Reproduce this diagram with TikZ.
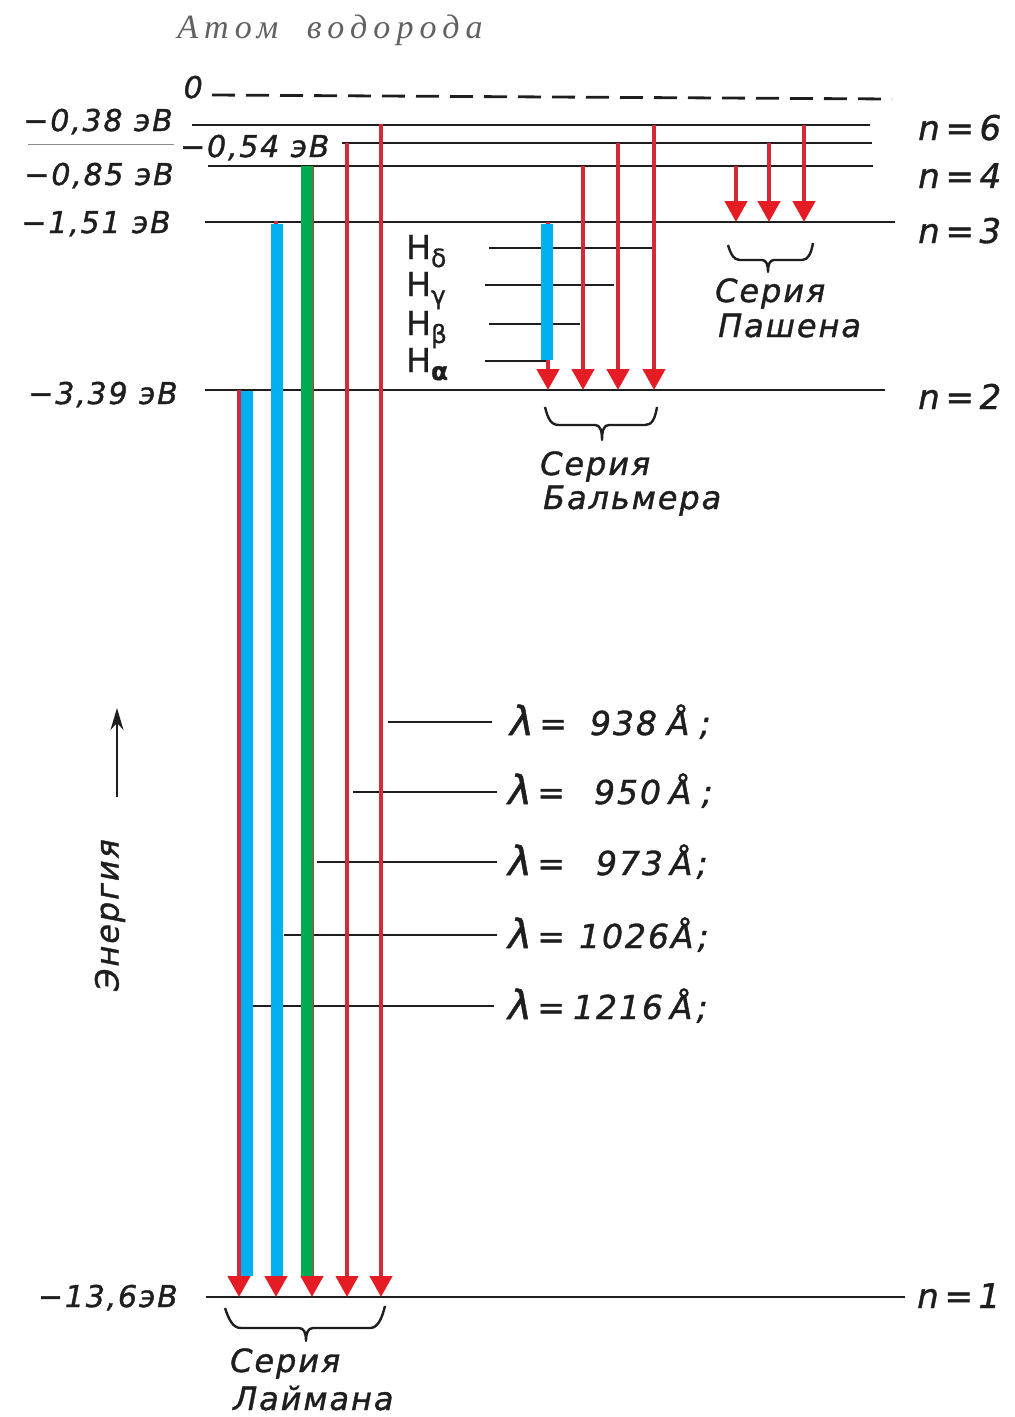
\documentclass[tikz,border=0pt]{standalone}
\usepackage{fontspec}
\setmainfont{DejaVu Sans}
\newfontfamily\labf[LetterSpace=6,FakeBold=1.2]{DejaVu Sans}
\newfontfamily\hfont[FakeBold=0.8]{DejaVu Sans}
\newfontfamily\titf[LetterSpace=18]{Liberation Serif}
\usetikzlibrary{arrows.meta}
\definecolor{lnred}{RGB}{212,42,56}
\definecolor{hdred}{RGB}{230,28,36}
\definecolor{bblue}{RGB}{0,176,240}
\definecolor{bgreen}{RGB}{0,170,80}
\definecolor{ink}{RGB}{30,30,30}
\newcommand\bglam{{\fontsize{40}{40}\selectfont λ}}
\begin{document}
\begin{tikzpicture}[x=1pt,y=-1pt,
  lvl/.style={line width=1.8pt, draw=ink},
  tickln/.style={line width=1.6pt, draw=ink},
  tr/.style={line width=4.5pt, draw=lnred, -{Triangle[width=22pt,length=21pt,color=hdred]}},
  cbar/.style={line width=12pt},
  lbl/.style={font=\labf\itshape\fontsize{30}{34}\selectfont, inner sep=0pt, text=ink},
  nlbl/.style={font=\labf\itshape\fontsize{34}{38}\selectfont, inner sep=0pt, text=ink},
  lam/.style={font=\labf\itshape\fontsize{33}{36}\selectfont, inner sep=0pt, text=ink},
  ser/.style={font=\labf\itshape\fontsize{32}{36}\selectfont, inner sep=0pt, text=ink},
  hl/.style={font=\hfont\fontsize{33}{36}\selectfont, inner sep=0pt, text=ink},
  brc/.style={line width=2.4pt, draw=ink, line join=round},
]
\useasboundingbox (0,0) rectangle (1015,1417);

% title
\node[font=\titf\itshape\fontsize{34}{38}\selectfont, text=black!62, inner sep=0pt] (title) at (330,30) {Атом\hspace{14pt} водорода};

% zero level
\coordinate (z0a) at (212,95); \coordinate (z0b) at (892,99);
\draw[line width=2.8pt, draw=ink, dash pattern=on 23pt off 11pt] (z0a) -- (z0b);
\node[lbl, anchor=base east] (zero) at (203,98) {0};

% level coordinates
\coordinate (l6a) at (192,125); \coordinate (l6b) at (870,125);
\coordinate (l5a) at (342,143); \coordinate (l5b) at (872,143);
\coordinate (l5g) at (28,144);  \coordinate (l5h) at (174,144);
\coordinate (l4a) at (208,166); \coordinate (l4b) at (873,166);
\coordinate (l3a) at (205,222); \coordinate (l3b) at (895,222);
\coordinate (l2a) at (205,390); \coordinate (l2b) at (885,390);
\coordinate (l1a) at (206,1297); \coordinate (l1b) at (905,1297);
\foreach \n in {6,5,4,3,2,1}{\draw[lvl] (l\n a) -- (l\n b);}
\draw[line width=1pt, draw=black!45] (l5g) -- (l5h);

% energy labels
\node[lbl, anchor=base east] (e6) at (173,131) {−0,38 эВ};
\node[lbl, anchor=base west] (e5) at (180,157) {−0,54 эВ};
\node[lbl, anchor=base east] (e4) at (174,185) {−0,85 эВ};
\node[lbl, anchor=base east] (e3) at (171,233) {−1,51 эВ};
\node[lbl, anchor=base east] (e2) at (178,404) {−3,39 эВ};
\node[lbl, anchor=base east] (e1) at (178,1307) {−13,6эВ};

% n labels
\node[nlbl, anchor=base west] (n6) at (918,140) {n\,=\,6};
\node[nlbl, anchor=base west] (n4) at (918,188) {n\,=\,4};
\node[nlbl, anchor=base west] (n3) at (918,243) {n\,=\,3};
\node[nlbl, anchor=base west] (n2) at (918,409) {n\,=\,2};
\node[nlbl, anchor=base west] (n1) at (917,1308) {n\,=\,1};

% Balmer H-lines
\coordinate (hds) at (489,248); \coordinate (hde) at (652,248);
\coordinate (hgs) at (485,285); \coordinate (hge) at (614,285);
\coordinate (hbs) at (489,324); \coordinate (hbe) at (580,324);
\coordinate (has) at (485,361); \coordinate (hae) at (550,361);
\draw[tickln] (hds) -- (hde);
\draw[tickln] (hgs) -- (hge);
\draw[tickln] (hbs) -- (hbe);
\draw[tickln] (has) -- (hae);
\node[hl, anchor=base west] (hd) at (406,259) {H\raisebox{-8pt}{\fontsize{25}{25}\selectfont δ}};
\node[hl, anchor=base west] (hg) at (406,296) {H\raisebox{-8pt}{\fontsize{25}{25}\selectfont γ}};
\node[hl, anchor=base west] (hb) at (406,335) {H\raisebox{-8pt}{\fontsize{25}{25}\selectfont β}};
\node[hl, anchor=base west] (ha) at (406,372) {H\raisebox{-8pt}{\fontsize{25}{25}\bfseries\selectfont α}};

% wavelength ticks
\coordinate (s938) at (388,722);  \coordinate (f938) at (492,722);
\coordinate (s950) at (353,792);  \coordinate (f950) at (497,792);
\coordinate (s973) at (317,862);  \coordinate (f973) at (497,862);
\coordinate (s1026) at (284,935); \coordinate (f1026) at (497,935);
\coordinate (s1216) at (253,1006); \coordinate (f1216) at (494,1006);
\foreach \w in {938,950,973,1026,1216}{\draw[tickln] (s\w) -- (f\w);}
\node[lam, anchor=base west] (lam938) at (510,735) {\bglam\,=\makebox[90pt][r]{938}\hspace{10pt}Å\hspace{10pt};};
\node[lam, anchor=base west] (lam950) at (508,804) {\bglam\,=\makebox[96pt][r]{950}\hspace{8pt}Å\hspace{10pt};};
\node[lam, anchor=base west] (lam973) at (508,875) {\bglam\,=\makebox[98pt][r]{973}\hspace{7pt}Å\hspace{4pt};};
\node[lam, anchor=base west] (lam1026) at (508,948) {\bglam\,=\makebox[104pt][r]{1026}\hspace{2pt}Å\hspace{4pt};};
\node[lam, anchor=base west] (lam1216) at (508,1019) {\bglam\,=\makebox[98pt][r]{1216}\hspace{7pt}Å\hspace{4pt};};

% Lyman series
\coordinate (ly1t) at (239,390); \coordinate (ly1b) at (239,1297);
\coordinate (ly2t) at (276,221); \coordinate (ly2b) at (276,1297);
\coordinate (ly3t) at (312,166); \coordinate (ly3b) at (312,1297);
\coordinate (ly4t) at (347,143); \coordinate (ly4b) at (347,1297);
\coordinate (ly5t) at (381,124); \coordinate (ly5b) at (381,1297);
\foreach \i in {1,...,5}{\draw[tr] (ly\i t) -- (ly\i b);}
\coordinate (bb1t) at (247,391); \coordinate (bb1b) at (247,1276);
\coordinate (bb2t) at (277,224); \coordinate (bb2b) at (277,1276);
\coordinate (gb3t) at (307,166); \coordinate (gb3b) at (307,1276);
\draw[cbar, draw=bblue] (bb1t) -- (bb1b);
\draw[cbar, draw=bblue] (bb2t) -- (bb2b);
\draw[cbar, draw=bgreen] (gb3t) -- (gb3b);

% Balmer series
\coordinate (ba1t) at (548,222); \coordinate (ba1b) at (548,390);
\coordinate (ba2t) at (583,166); \coordinate (ba2b) at (583,390);
\coordinate (ba3t) at (618,143); \coordinate (ba3b) at (618,390);
\coordinate (ba4t) at (654,125); \coordinate (ba4b) at (654,390);
\foreach \i in {1,...,4}{\draw[tr] (ba\i t) -- (ba\i b);}
\coordinate (bbat) at (547,224); \coordinate (bbab) at (547,360);
\draw[cbar, draw=bblue] (bbat) -- (bbab);

% Paschen series
\coordinate (pa1t) at (736,166); \coordinate (pa1b) at (736,222);
\coordinate (pa2t) at (769,143); \coordinate (pa2b) at (769,222);
\coordinate (pa3t) at (804,125); \coordinate (pa3b) at (804,222);
\foreach \i in {1,2,3}{\draw[tr] (pa\i t) -- (pa\i b);}

% braces
\draw[brc] (545,407) .. controls (548,419) and (551,425) .. (559,425) -- (595,425) .. controls (600,425) and (602,430) .. (602,440) .. controls (602,430) and (604,425) .. (609,425) -- (645,425) .. controls (652,425) and (655,419) .. (657,407);
\draw[brc] (728,245) .. controls (731,255) and (734,260) .. (740,260) -- (762,260) .. controls (766,260) and (768,264) .. (768,272) .. controls (768,264) and (770,260) .. (774,260) -- (802,260) .. controls (808,260) and (811,254) .. (813,243);
\draw[brc] (225,1308) .. controls (229,1320) and (233,1328) .. (241,1328) -- (299,1328) .. controls (304,1328) and (306,1333) .. (306,1341) .. controls (306,1333) and (308,1328) .. (313,1328) -- (370,1328) .. controls (378,1328) and (382,1318) .. (385,1306);

% series labels
\node[ser, anchor=base west] (bs1) at (540,475) {Серия};
\node[ser, anchor=base west] (bs2) at (543,509) {Бальмера};
\node[ser, anchor=base west] (ps1) at (715,302) {Серия};
\node[ser, anchor=base west] (ps2) at (718,337) {Пашена};
\node[ser, anchor=base west] (ls1) at (230,1372) {Серия};
\node[ser, anchor=base west] (ls2) at (233,1410) {Лаймана};

% energy axis
\coordinate (ena) at (117,797); \coordinate (enb) at (117,708);
\draw[line width=2pt, draw=ink, -{Stealth[length=22pt,width=13pt]}] (ena) -- (enb);
\node[ser, rotate=90] (energy) at (110,915) {Энергия};
\end{tikzpicture}
\end{document}
